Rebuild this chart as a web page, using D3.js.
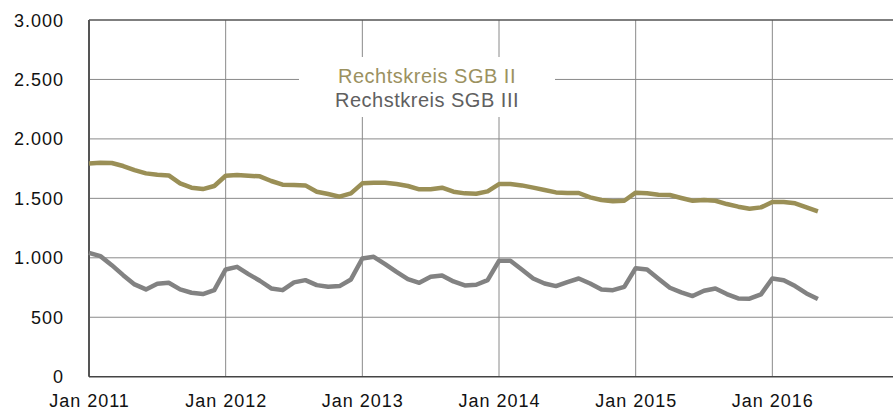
<!DOCTYPE html>
<html>
<head>
<meta charset="utf-8">
<script src="https://cdn.jsdelivr.net/npm/d3@7"></script>
<style>
  html, body { margin: 0; padding: 0; background: #fff; }
  svg { display: block; }
  text { font-family: "Liberation Sans", Arial, sans-serif; }
</style>
</head>
<body>
<svg id="chart" width="893" height="412"></svg>
<script>
// Monthly values, Jan 2011 – Apr 2016
const startYear = 2011;
const sgb2 = [
  1794, 1800, 1797, 1772, 1738, 1710, 1699, 1693, 1626, 1590, 1578, 1604,
  1690, 1696, 1690, 1685, 1646, 1615, 1612, 1609, 1556, 1536, 1514, 1542,
  1626, 1632, 1632, 1620, 1604, 1576, 1576, 1590, 1556, 1542, 1539, 1559,
  1620, 1620, 1609, 1590, 1570, 1550, 1545, 1545, 1508, 1486, 1475, 1480,
  1548, 1542, 1531, 1528, 1503, 1480, 1486, 1480, 1452, 1430, 1413, 1424,
  1469, 1469, 1458, 1424, 1391
];
const sgb3 = [
  1042, 1014, 938, 854, 776, 734, 782, 790, 734, 706, 695, 728,
  902, 924, 863, 807, 742, 728, 793, 812, 770, 756, 762, 818,
  994, 1008, 947, 882, 821, 790, 840, 852, 801, 768, 773, 812,
  975, 975, 902, 826, 784, 762, 796, 826, 784, 734, 728, 756,
  913, 902, 824, 748, 709, 678, 723, 742, 695, 658, 656, 692,
  826, 812, 762, 700, 653
];
const seriesNames = ["Rechtskreis SGB II", "Rechstkreis SGB III"];
const seriesColors = ["#9a8f56", "#828282"];
const legendColors = ["#9b9160", "#606060"];
const yTicks = [0, 500, 1000, 1500, 2000, 2500, 3000];
const xTickMonths = [0, 12, 24, 36, 48, 60];
const xTickLabels = ["Jan 2011", "Jan 2012", "Jan 2013", "Jan 2014", "Jan 2015", "Jan 2016"];

const svg = d3.select("#chart");
const W = 893;
const plotLeft = 89, plotTop = 20, plotBottom = 376.7;
const monthPx = 11.389;

// month index -> x; the axis runs through Jan 2017
const x = d3.scaleLinear().domain([0, 72]).range([plotLeft, plotLeft + 72 * monthPx]);
const y = d3.scaleLinear().domain([0, 3000]).range([plotBottom, plotTop]);

const fmt = d3.formatLocale({ decimal: ",", thousands: ".", grouping: [3], currency: ["", " €"] }).format(",d");

// horizontal gridlines
svg.append("g").selectAll("line")
  .data(yTicks.filter(v => v > 0 && v < 3000))
  .join("line")
  .attr("x1", plotLeft).attr("x2", W)
  .attr("y1", d => y(d)).attr("y2", d => y(d))
  .attr("stroke", "#8a8a8a").attr("stroke-width", 1);

// vertical gridlines
svg.append("g").selectAll("line")
  .data(xTickMonths.filter(m => m > 0))
  .join("line")
  .attr("x1", d => x(d)).attr("x2", d => x(d))
  .attr("y1", plotTop).attr("y2", plotBottom)
  .attr("stroke", "#8a8a8a").attr("stroke-width", 1);

// frame: top, left, bottom
svg.append("line").attr("x1", plotLeft).attr("x2", W).attr("y1", y(3000)).attr("y2", y(3000))
  .attr("stroke", "#555").attr("stroke-width", 1.5);
svg.append("line").attr("x1", plotLeft).attr("x2", plotLeft).attr("y1", plotTop).attr("y2", plotBottom)
  .attr("stroke", "#555").attr("stroke-width", 2);
svg.append("line").attr("x1", plotLeft).attr("x2", W).attr("y1", y(0)).attr("y2", y(0))
  .attr("stroke", "#444").attr("stroke-width", 1.5);

// y tick labels
svg.append("g").selectAll("text")
  .data(yTicks)
  .join("text")
  .attr("x", 64).attr("y", d => y(d) + 6.5)
  .attr("text-anchor", "end")
  .attr("font-size", 18)
  .attr("letter-spacing", 1)
  .attr("fill", "#111")
  .text(d => fmt(d));

// x tick labels
svg.append("g").selectAll("text")
  .data(xTickMonths)
  .join("text")
  .attr("x", d => x(d) + 0.5).attr("y", 407)
  .attr("text-anchor", "middle")
  .attr("font-size", 18)
  .attr("letter-spacing", 1)
  .attr("fill", "#111")
  .text((d, i) => xTickLabels[i]);

// series lines
const line = d3.line().x((d, i) => x(i)).y(d => y(d));
[sgb2, sgb3].forEach((s, k) => {
  svg.append("path")
    .datum(s)
    .attr("d", line)
    .attr("fill", "none")
    .attr("stroke", seriesColors[k])
    .attr("stroke-width", 4.5)
    .attr("stroke-linejoin", "round")
    .attr("stroke-linecap", "butt");
});

// legend
const lg = svg.append("g");
lg.append("rect").attr("x", 299).attr("y", 57).attr("width", 256).attr("height", 60).attr("fill", "#fff");
seriesNames.forEach((name, i) => {
  lg.append("text")
    .attr("x", 427).attr("y", 82.5 + i * 24)
    .attr("text-anchor", "middle")
    .attr("font-size", 20)
    .attr("letter-spacing", 0.5)
    .attr("fill", legendColors[i])
    .text(name);
});
</script>
</body>
</html>
